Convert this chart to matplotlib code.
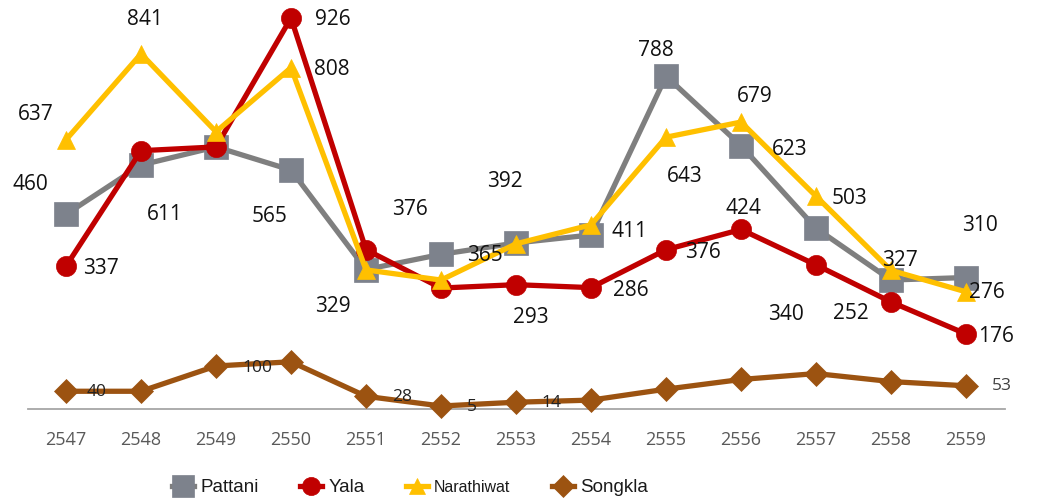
import matplotlib
matplotlib.use("Agg")
import matplotlib.pyplot as plt
from matplotlib import font_manager

# ---------------- data ----------------
years = ["2547", "2548", "2549", "2550", "2551", "2552", "2553",
         "2554", "2555", "2556", "2557", "2558", "2559"]
pattani = [460, 577, 620, 565, 329, 365, 392, 411, 788, 623, 427, 304, 310]
yala = [337, 611, 620, 926, 376, 285, 293, 286, 376, 424, 340, 252, 176]
narathiwat = [637, 841, 656, 808, 328, 304, 390, 435, 643, 679, 503, 327, 276]
songkla = [40, 40, 100, 110, 28, 5, 14, 19, 45, 68, 82, 63, 53]
series_names = ["Pattani", "Yala", "Narathiwat", "Songkla"]

# label placement (index, dx px, dy px screen-down) -- layout only
pattani_lbl = [(0, -36, -30), (3, -21, 46), (4, -33, 37), (5, 44, 1), (6, -11, -61),
               (7, 38, -3), (8, -10, -26), (9, 49, 4), (12, 14, -52)]
yala_lbl = [(0, 35, 2), (1, 24, 64), (3, 42, 2), (4, 44, -40), (6, 15, 33),
            (7, 40, 3), (8, 37, 3), (9, 2, -21), (10, -30, 50), (11, -40, 12),
            (12, 30, 3)]
nara_lbl = [(0, -30, -25), (1, 4, -34), (3, 41, 2), (8, 19, 39), (9, 14, -26),
            (10, 33, 2), (11, 9, -10), (12, 21, 1)]
song_lbl = [(0, 31, 1), (2, 41, 2), (4, 36, 1), (5, 31, 1), (6, 35, 1), (12, 36, 0)]

# ---------------- fonts ----------------
names = {f.name for f in font_manager.fontManager.ttflist}
main_font = "Open Sans" if "Open Sans" in names else "DejaVu Sans"
leg_font = "Liberation Sans Narrow" if "Liberation Sans Narrow" in names else "Liberation Sans"
narrow = leg_font == "Liberation Sans Narrow"
plt.rcParams["font.family"] = [main_font, "DejaVu Sans"]

W, H = 1037, 504
fig = plt.figure(figsize=(W / 100, H / 100), dpi=100)
ax = fig.add_axes([28 / W, (H - 409) / H, (1005 - 28) / W, 409 / H])

x = list(range(len(years)))
styles = [
    (pattani, "#7F7F7F", "#7D828C", "s", 17),
    (yala, "#C00000", "#C00000", "o", 14.5),
    (narathiwat, "#FFC000", "#FFC000", "^", 13.5),
    (songkla, "#9C5311", "#9C5311", "D", 12.5),
]
handles = []
for z, (vals, lc, mc, mk, ms) in enumerate(styles):
    h, = ax.plot(x, vals, color=lc, lw=3.8, marker=mk, markersize=ms,
                 markerfacecolor=mc, markeredgecolor=mc, markeredgewidth=0.5,
                 clip_on=False, zorder=3 + z, solid_joinstyle="round")
    handles.append(h)

ax.set_xlim(-0.507, 12.52)
ax.set_ylim(-2.1, 968.7)

def put_labels(vals, lbls, size, color):
    for i, dx, dy in lbls:
        ax.annotate(str(vals[i]), xy=(x[i], vals[i]), xytext=(dx, -dy),
                    textcoords="offset pixels", ha="center", va="center",
                    fontsize=size, color=color, zorder=10, annotation_clip=False)

put_labels(pattani, pattani_lbl, 15, "#111111")
put_labels(yala, yala_lbl, 15, "#111111")
put_labels(narathiwat, nara_lbl, 15, "#111111")
put_labels(songkla, song_lbl[:-1], 12.5, "#222222")
put_labels(songkla, song_lbl[-1:], 12.5, "#404040")

for s in ["top", "left", "right"]:
    ax.spines[s].set_visible(False)
ax.spines["bottom"].set_color("#A6A6A6")
ax.spines["bottom"].set_linewidth(1.3)
ax.set_yticks([])
ax.set_xticks(x)
ax.set_xticklabels(years, fontsize=13, color="#595959")
ax.tick_params(axis="x", length=0, pad=16)
ax.patch.set_visible(False)

leg = fig.legend(handles, series_names, loc="center", ncol=4,
                 bbox_to_anchor=(410 / W, 1 - 488 / H), frameon=False,
                 handlelength=1.2, handletextpad=0.35, columnspacing=2.3,
                 prop={"family": leg_font, "size": 14 if narrow else 13})
sizes = [14, 14, 11.5, 14] if narrow else [13.5, 13.5, 11.5, 13.5]
for t, s in zip(leg.get_texts(), sizes):
    t.set_fontsize(s)
    t.set_color("#1a1a1a")
for lh in leg.legend_handles:
    lh.set_markersize(lh.get_markersize() * 0.9)

fig.savefig("out.png", dpi=100)
